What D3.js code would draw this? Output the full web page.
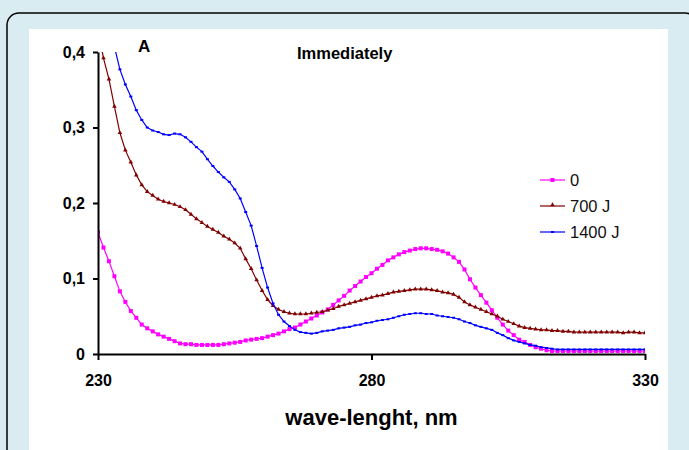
<!DOCTYPE html>
<html>
<head>
<meta charset="utf-8">
<script src="https://cdn.jsdelivr.net/npm/d3@7"></script>
<style>
  body { margin: 0; background: #d8ecf1; }
  svg { display: block; font-family: "Liberation Sans", Arial, sans-serif; }
</style>
</head>
<body>
<svg width="689" height="450"></svg>
<script>
// wavelength categories, 1 nm steps
var wavelengths = d3.range(230, 331);
var xTicks = [230, 280, 330];
var yTicks = [0, 0.1, 0.2, 0.3, 0.4];

var seriesNames = ["0", "700 J", "1400 J"];

var dose0 = [
  0.161, 0.141, 0.123, 0.103, 0.083, 0.069, 0.057, 0.048, 0.039, 0.034,
  0.030, 0.026, 0.023, 0.020, 0.017, 0.014, 0.013, 0.013, 0.012, 0.012,
  0.012, 0.012, 0.012, 0.013, 0.014, 0.015, 0.016, 0.018, 0.019, 0.020,
  0.021, 0.023, 0.025, 0.027, 0.030, 0.033, 0.035, 0.039, 0.043, 0.047,
  0.051, 0.055, 0.059, 0.065, 0.071, 0.077, 0.084, 0.090, 0.096, 0.102,
  0.107, 0.113, 0.118, 0.124, 0.128, 0.132, 0.135, 0.137, 0.139, 0.140,
  0.140, 0.139, 0.138, 0.136, 0.133, 0.128, 0.122, 0.112, 0.099, 0.088,
  0.078, 0.068, 0.058, 0.048, 0.039, 0.031, 0.025, 0.019, 0.016, 0.012,
  0.009, 0.007, 0.005, 0.004, 0.004, 0.004, 0.004, 0.004, 0.004, 0.004,
  0.004, 0.004, 0.004, 0.004, 0.004, 0.004, 0.004, 0.004, 0.004, 0.004,
  0.004
];

var dose700 = [
  0.430, 0.392, 0.364, 0.328, 0.293, 0.270, 0.254, 0.237, 0.224, 0.215,
  0.210, 0.205, 0.202, 0.200, 0.198, 0.195, 0.191, 0.185, 0.179, 0.174,
  0.169, 0.165, 0.161, 0.156, 0.152, 0.147, 0.140, 0.126, 0.113, 0.098,
  0.084, 0.072, 0.064, 0.059, 0.056, 0.054, 0.053, 0.053, 0.053, 0.054,
  0.055, 0.056, 0.058, 0.060, 0.063, 0.065, 0.067, 0.069, 0.071, 0.073,
  0.075, 0.077, 0.078, 0.080, 0.082, 0.083, 0.084, 0.085, 0.086, 0.086,
  0.086, 0.085, 0.084, 0.082, 0.081, 0.079, 0.075, 0.069, 0.065, 0.062,
  0.059, 0.056, 0.053, 0.050, 0.046, 0.043, 0.040, 0.037, 0.035, 0.034,
  0.033, 0.032, 0.032, 0.031, 0.031, 0.030, 0.030, 0.029, 0.029, 0.029,
  0.029, 0.029, 0.029, 0.029, 0.029, 0.029, 0.028, 0.029, 0.029, 0.028,
  0.028
];

var dose1400 = [
  0.490, 0.460, 0.435, 0.407, 0.377, 0.357, 0.341, 0.323, 0.310, 0.300,
  0.296, 0.294, 0.291, 0.290, 0.292, 0.291, 0.287, 0.281, 0.274, 0.268,
  0.258, 0.249, 0.241, 0.234, 0.228, 0.218, 0.206, 0.188, 0.170, 0.143,
  0.114, 0.088, 0.067, 0.052, 0.043, 0.037, 0.032, 0.029, 0.028, 0.027,
  0.028, 0.030, 0.031, 0.032, 0.034, 0.035, 0.036, 0.038, 0.039, 0.041,
  0.042, 0.044, 0.045, 0.046, 0.048, 0.050, 0.052, 0.053, 0.054, 0.054,
  0.053, 0.053, 0.051, 0.050, 0.049, 0.048, 0.046, 0.043, 0.041, 0.038,
  0.036, 0.034, 0.032, 0.028, 0.025, 0.021, 0.018, 0.016, 0.014, 0.012,
  0.011, 0.009, 0.008, 0.007, 0.006, 0.006, 0.006, 0.006, 0.006, 0.006,
  0.006, 0.006, 0.006, 0.006, 0.006, 0.006, 0.006, 0.006, 0.006, 0.006,
  0.006
];

var colors = ["#ff00ff", "#800000", "#0000ff"];

var svg = d3.select("svg");

// frame: rounded border and white panel
svg.append("rect")
    .attr("x", 7).attr("y", 13)
    .attr("width", 690).attr("height", 480)
    .attr("rx", 12)
    .attr("fill", "#d8ecf1")
    .attr("stroke", "#000").attr("stroke-width", 1.5);
svg.append("rect")
    .attr("x", 29).attr("y", 29)
    .attr("width", 639).attr("height", 430)
    .attr("fill", "#fff");

var x = d3.scaleLinear().domain([230, 330]).range([98, 645]);
var y = d3.scaleLinear().domain([0, 0.4]).range([354, 52]);

svg.append("clipPath").attr("id", "plot")
  .append("rect")
    .attr("x", x(230)).attr("y", y(0.4))
    .attr("width", x(330) - x(230)).attr("height", y(0) - y(0.4));

var series = [dose0, dose700, dose1400].map(function(vals, i) {
    return {
        name: seriesNames[i],
        color: colors[i],
        points: vals.map(function(v, j) { return [wavelengths[j], v]; })
    };
});

var line = d3.line()
    .x(function(d) { return x(d[0]); })
    .y(function(d) { return y(d[1]); });

var plot = svg.append("g").attr("clip-path", "url(#plot)");

// markers: square for 0, triangle for 700 J, small dash for 1400 J
function marker(g, data, i, px, py) {
    var sel = g.selectAll(null).data(data).enter();
    if (i === 0) {
        sel.append("rect")
            .attr("x", function(d) { return px(d) - 2; })
            .attr("y", function(d) { return py(d) - 2; })
            .attr("width", 4).attr("height", 4)
            .attr("fill", colors[0]);
    } else if (i === 1) {
        sel.append("path")
            .attr("d", d3.symbol().type(d3.symbolTriangle).size(9))
            .attr("transform", function(d) { return "translate(" + px(d) + "," + py(d) + ")"; })
            .attr("fill", colors[1]);
    } else {
        sel.append("rect")
            .attr("x", function(d) { return px(d) - 1.5; })
            .attr("y", function(d) { return py(d) - 1; })
            .attr("width", 3).attr("height", 2)
            .attr("fill", colors[2]);
    }
}

series.forEach(function(s, i) {
    plot.append("path")
        .attr("d", line(s.points))
        .attr("fill", "none")
        .attr("stroke", s.color)
        .attr("stroke-width", 1.2);
    marker(plot, s.points.filter(function(d) { return d[1] <= 0.4; }), i,
        function(d) { return x(d[0]); },
        function(d) { return y(d[1]); });
});

// axes
var yAxis = svg.append("g")
    .attr("transform", "translate(" + x(230) + ",0)")
    .call(d3.axisLeft(y).tickValues(yTicks).tickSize(5).tickSizeOuter(0)
        .tickFormat(function(d) { return d === 0 ? "0" : d3.format(".1f")(d).replace(".", ","); }));
var xAxis = svg.append("g")
    .attr("transform", "translate(0," + y(0) + ")")
    .call(d3.axisBottom(x).tickValues(xTicks).tickSize(6).tickSizeOuter(0));

[yAxis, xAxis].forEach(function(a) {
    a.select(".domain").attr("stroke", "#000").attr("stroke-width", 2);
    a.selectAll(".tick line").attr("stroke", "#000").attr("stroke-width", 2);
    a.selectAll(".tick text")
        .attr("fill", "#000")
        .style("font-size", "16px")
        .style("font-weight", "bold")
        .style("font-family", "Liberation Sans, Arial, sans-serif");
});
yAxis.selectAll(".tick text").attr("x", -13);
xAxis.selectAll(".tick text").attr("y", 21);

svg.append("text")
    .attr("x", x(280)).attr("y", 425)
    .attr("text-anchor", "middle")
    .style("font-size", "22px").style("font-weight", "bold")
    .text("wave-lenght, nm");

svg.append("text")
    .attr("x", 138).attr("y", 52)
    .style("font-size", "17px").style("font-weight", "bold")
    .text("A");

svg.append("text")
    .attr("x", 297).attr("y", 59)
    .style("font-size", "16.5px").style("font-weight", "bold")
    .text("Immediately");

// legend
var legend = svg.append("g").attr("transform", "translate(540,180)");
series.forEach(function(s, i) {
    var row = legend.append("g").attr("transform", "translate(0," + (i * 26) + ")");
    row.append("line")
        .attr("x1", 0).attr("x2", 25)
        .attr("stroke", s.color).attr("stroke-width", 1.2);
    marker(row, [12.5], i, function(d) { return d; }, function() { return i === 1 ? -1 : 0; });
    row.append("text")
        .attr("x", 30).attr("y", 6)
        .attr("fill", "#111")
        .style("font-size", "16.5px")
        .text(s.name);
});
</script>
</body>
</html>
